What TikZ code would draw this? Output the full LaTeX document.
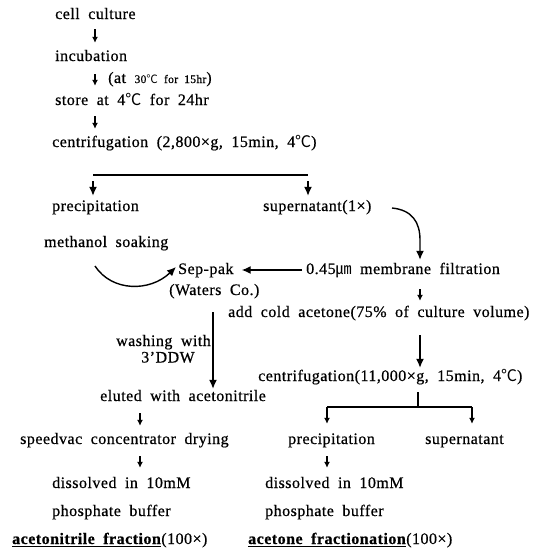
\documentclass[tikz,border=0pt]{standalone}
\usepackage{fontspec}
\setmainfont{Liberation Serif}[LetterSpace=3,WordSpace=1.9,FakeBold=0.6]
\newfontfamily\cjk{Noto Sans CJK KR}
\newcommand\dC{{\cjk ℃}}
\newcommand\um{{\cjk ㎛}}
\newcommand\ulb[1]{\setbox0\hbox{\textbf{#1}}\leavevmode\rlap{\rule[-3pt]{\wd0}{1.3pt}}\box0}
\usetikzlibrary{arrows.meta}
\begin{document}
\begin{tikzpicture}[x=1pt,y=-1pt,
  txt/.style={inner sep=0pt, anchor=west, text height=11pt, text depth=3pt,
    font=\fontsize{16}{19}\selectfont},
  sarr/.style={-{Latex[length=6pt,width=6pt]}, line width=1.6pt},
  larr/.style={-{Latex[length=9pt,width=8pt]}, line width=1.4pt},
  ln/.style={line width=1.4pt}]
\useasboundingbox (0,0) rectangle (538,549);
% nodes
\node[txt] (cc) at (55,15) {cell culture};
\node[txt] (inc) at (55,57) {incubation};
\node[txt] (note) at (108,79) {(at {\fontsize{11.5}{13}\selectfont 30\dC{} for 15hr})};
\node[txt] (store) at (55,101) {store at 4\dC{} for 24hr};
\node[txt] (cen1) at (52,143) {centrifugation (2,800×g, 15min, 4\dC)};
\node[txt] (prec1) at (52,207) {precipitation};
\node[txt] (sup1) at (263,207) {supernatant(1×)};
\node[txt] (meth) at (44,243) {methanol soaking};
\node[txt] (sep) at (178,270) {Sep-pak};
\node[txt] (wat) at (169,291) {(Waters Co.)};
\node[txt] (filt) at (306,270) {0.45\um{} membrane filtration};
\node[txt] (add) at (228,313) {add cold acetone(75\% of culture volume)};
\node[txt,anchor=east] (wash) at (211,342) {washing with};
\node[txt,anchor=center,text depth=2pt] (ddw) at (168,358) {3'DDW};
\node[txt] (cen2) at (258,377) {centrifugation(11,000×g, 15min, 4\dC)};
\node[txt] (elu) at (100,397) {eluted with acetonitrile};
\node[txt] (speed) at (20,440) {speedvac concentrator drying};
\node[txt] (prec2) at (288,440) {precipitation};
\node[txt] (sup2) at (425,440) {supernatant};
\node[txt] (dis1) at (52,484) {dissolved in 10mM};
\node[txt] (pho1) at (52,512) {phosphate buffer};
\node[txt] (dis2) at (265,484) {dissolved in 10mM};
\node[txt] (pho2) at (265,512) {phosphate buffer};
\node[txt] (fr1) at (12,540) {\ulb{acetonitrile fraction}(100×)};
\node[txt] (fr2) at (248,540) {\ulb{acetone fractionation}(100×)};
% helper coordinates
\coordinate (ax) at (95,0);
\coordinate (bl) at (93,175);
\coordinate (br) at (308,175);
\coordinate (s1) at (392,208);
\coordinate (m1) at (95,266);
\coordinate (fx) at (420,0);
\coordinate (w1) at (213,312);
\coordinate (r1) at (420,335);
\coordinate (bl2) at (327,407);
\coordinate (br2) at (472,407);
\coordinate (ex) at (140,0);
% connectors
\draw[sarr,shorten <=7pt,shorten >=7pt] (cc.south -| ax) -- (inc.north -| ax);
\draw[sarr,shorten <=10pt,shorten >=8pt] (inc.south -| ax) -- (store.north -| ax);
\draw[sarr,shorten <=8pt,shorten >=7pt] (store.south -| ax) -- (cen1.north -| ax);
\draw[ln] (bl) -- (br);
\draw[larr,shorten >=4pt] ([yshift=-6pt]bl) -- (prec1.north -| bl);
\draw[larr,shorten >=4pt] ([yshift=-6pt]br) -- (sup1.north -| br);
\draw[larr] (s1) .. controls (412,210) and (420,222) .. (420,240) -- ([yshift=3pt]filt.north -| fx);
\draw[larr,shorten <=4pt,shorten >=8pt] (filt.west) -- (sep.east);
\draw[larr] (m1) .. controls (112,292) and (150,292) .. ([xshift=-2pt,yshift=3pt]sep.west);
\draw[sarr,shorten <=12pt,shorten >=5pt] (filt.south -| fx) -- (add.north -| fx);
\draw[larr,shorten >=1pt] (w1) -- (elu.north -| w1);
\draw[larr,shorten >=2pt] (r1) -- (cen2.north -| r1);
\draw[ln,shorten <=8pt] (cen2.south -| 418,0) -- (418,407);
\draw[ln] (bl2) -- (br2);
\draw[sarr,shorten >=9pt] (bl2) -- (prec2.north -| bl2);
\draw[sarr,shorten >=9pt] (br2) -- (sup2.north -| br2);
\draw[sarr,shorten <=9pt,shorten >=7pt] (elu.south -| ex) -- (speed.north -| ex);
\draw[sarr,shorten <=9pt,shorten >=9pt] (speed.south -| ex) -- (dis1.north -| ex);
\draw[sarr,shorten <=9pt,shorten >=9pt] (prec2.south -| bl2) -- (dis2.north -| bl2);
\end{tikzpicture}
\end{document}
